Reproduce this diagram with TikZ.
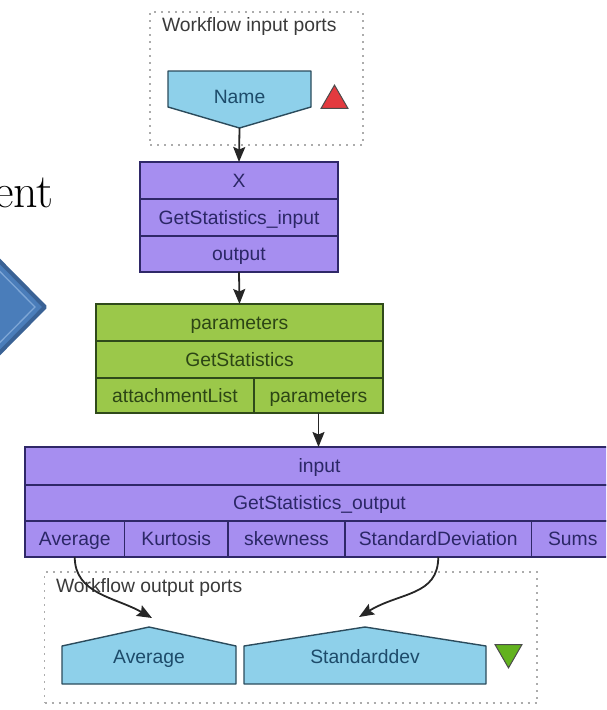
\documentclass[tikz,border=0pt]{standalone}
\usepackage{fontspec}
\newfontfamily\diag{Liberation Sans}
\usetikzlibrary{arrows.meta,calc,shapes.geometric}

\definecolor{purplefill}{HTML}{A68EF0}
\definecolor{purpleedge}{HTML}{2F2868}
\definecolor{purpletext}{HTML}{2B2766}
\definecolor{greenfill}{HTML}{9BC84A}
\definecolor{greenedge}{HTML}{2F4A1A}
\definecolor{greentext}{HTML}{2C4515}
\definecolor{portfill}{HTML}{8ED0EA}
\definecolor{portedge}{HTML}{2B4B5C}
\definecolor{porttext}{HTML}{1D4B6A}
\definecolor{titletext}{HTML}{3A3A3A}
\definecolor{chevfill}{HTML}{4A7DBA}
\definecolor{chevedge}{HTML}{3A6295}
\definecolor{chevline}{HTML}{7EA6D6}
\definecolor{redmark}{HTML}{E33A3F}
\definecolor{greenmark}{HTML}{62B21E}

\begin{document}
\begin{tikzpicture}[x=1pt,y=-1pt,
  lbl/.style={font=\diag\fontsize{19.3}{22}\selectfont, inner sep=0pt, outer sep=0pt,
              text height=13.9pt, text depth=0pt},
  pcell/.style={lbl, rectangle, draw=purpleedge, fill=purplefill, text=purpletext,
                line width=1.4pt},
  gcell/.style={lbl, rectangle, draw=greenedge, fill=greenfill, text=greentext,
                line width=1.4pt},
  portlbl/.style={lbl, text=porttext},
  portshape/.style={draw=portedge, fill=portfill, line width=1.4pt, line join=round},
  portbox/.style={draw=gray!65, line width=1.4pt, dash pattern=on 2pt off 5pt},
  boxtitle/.style={lbl, text=titletext, anchor=west},
  marker/.style={regular polygon, regular polygon sides=3, minimum size=31pt,
                 inner sep=0pt, draw=black!70, line width=1pt},
  arr/.style={-{Stealth[length=15pt,width=12pt,inset=2.5pt]}, line width=1.8pt, draw=black!85},
]
\useasboundingbox (0,0) rectangle (606,710);
\clip (0,0) rectangle (606,710);

% heading fragment and arrow-shaped graphic on the left
\node[anchor=base east, inner sep=0pt, font=\fontsize{48}{58}\selectfont] (ent) at (54,207) {ent};
\draw[chevedge, fill=chevfill, line width=4pt, line join=round] (-50,211) -- (45,307) -- (-50,403) -- cycle;
\draw[chevline, line width=1.3pt] (-60,211) -- (35,307) -- (-60,403);

% workflow input ports
\node[portbox, minimum width=213pt, minimum height=133pt, inner sep=0pt] (inports) at (256.5,78.5) {};
\node[boxtitle] (intitle) at (162,25) {Workflow input ports};
\node[portlbl, minimum width=143pt, minimum height=57pt] (nameport) at (239.5,99.5) {};
\draw[portshape] (nameport.north west) -- (nameport.north east)
  -- ($(nameport.north east)+(0,36)$) -- (nameport.south)
  -- ($(nameport.north west)+(0,36)$) -- cycle;
\node[portlbl] (namelbl) at (239.5,97) {Name};
\node[marker, fill=redmark] (redtri) at (334.5,100.6) {};

% GetStatistics_input
\node[pcell, minimum width=198pt, minimum height=37pt] (xport) at (239,180.5) {X};
\node[pcell, minimum width=198pt, minimum height=37pt] (gsin) at (239,217.5) {GetStatistics\_input};
\node[pcell, minimum width=198pt, minimum height=36pt] (gsinout) at (239,254) {output};

% GetStatistics
\node[gcell, minimum width=287pt, minimum height=37pt] (gpar) at (239.5,322.5) {parameters};
\node[gcell, minimum width=287pt, minimum height=37pt] (gname) at (239.5,359.5) {GetStatistics};
\node[gcell, minimum width=158pt, minimum height=35pt] (gatt) at (175,395.5) {attachmentList};
\node[gcell, minimum width=129pt, minimum height=35pt] (gparout) at (318.5,395.5) {parameters};

% GetStatistics_output
\node[pcell, minimum width=589pt, minimum height=38pt] (oin) at (319.5,466) {input};
\node[pcell, minimum width=589pt, minimum height=36pt] (oname) at (319.5,503) {GetStatistics\_output};
\node[pcell, minimum width=99.5pt, minimum height=36pt] (oavg) at (74.75,539) {Average};
\node[pcell, minimum width=103.5pt, minimum height=36pt] (okurt) at (176.25,539) {Kurtosis};
\node[pcell, minimum width=117pt, minimum height=36pt] (oskew) at (286.5,539) {skewness};
\node[pcell, minimum width=186.5pt, minimum height=36pt] (ostd) at (438.25,539) {StandardDeviation};
\node[pcell, minimum width=82.5pt, minimum height=36pt] (osums) at (572.75,539) {Sums};

% workflow output ports
\node[portbox, minimum width=492.5pt, minimum height=131pt, inner sep=0pt] (outports) at (290.75,637.5) {};
\node[boxtitle] (outtitle) at (56,586) {Workflow output ports};
\node[portlbl, minimum width=174pt, minimum height=57pt] (avgport) at (149,655.5) {};
\draw[portshape] (avgport.south west) -- ($(avgport.south west)+(0,-38)$)
  -- (avgport.north) -- ($(avgport.south east)+(0,-38)$)
  -- (avgport.south east) -- cycle;
\node[portlbl] (avglbl) at (149,657) {Average};
\node[portlbl, minimum width=242pt, minimum height=57pt] (stdport) at (365,655.5) {};
\draw[portshape] (stdport.south west) -- ($(stdport.south west)+(0,-38)$)
  -- (stdport.north) -- ($(stdport.south east)+(0,-38)$)
  -- (stdport.south east) -- cycle;
\node[portlbl] (stdlbl) at (365,657) {Standarddev};
\node[marker, fill=greenmark, shape border rotate=180] (greentri) at (508.5,652.4) {};

% data links
\coordinate (avgtip) at (152,618);
\coordinate (stdtip) at (359,617);
\draw[arr] (nameport.south) -- (xport.north);
\draw[arr] (gsinout.south) -- (gpar.north);
\draw[arr] (gparout.south) -- (gparout.south |- oin.north);
\draw[arr] (oavg.south) .. controls (74.75,594) and (115,597) .. (avgtip);
\draw[arr] (ostd.south) .. controls (438.25,596) and (400,592) .. (stdtip);
\end{tikzpicture}
\end{document}
